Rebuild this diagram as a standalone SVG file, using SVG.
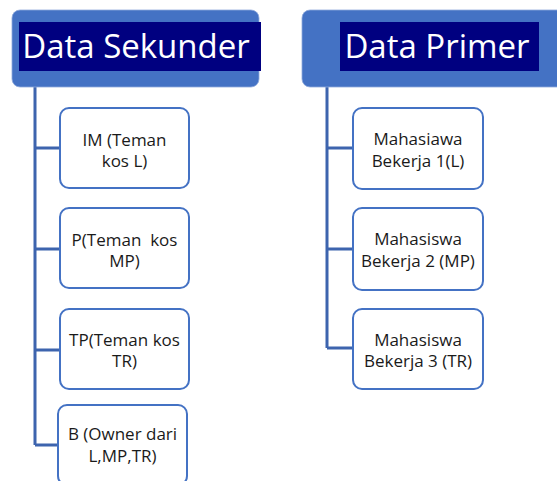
<svg xmlns="http://www.w3.org/2000/svg" width="557" height="481" viewBox="0 0 557 481">
<style>
.hdr{fill:#4472C4;stroke:#8FAADC;stroke-width:0.8}
.hbg{fill:#000080}
.ht{font-family:"Open Sans","Noto Sans",sans-serif;font-size:33px;fill:#FFFFFF;text-anchor:middle}
.box{fill:#FFFFFF;stroke:#4472C4;stroke-width:2}
.bt{font-family:"Open Sans","Noto Sans",sans-serif;font-size:17px;fill:#1A1A1A;text-anchor:middle}
.con{fill:none;stroke:#3D64AE;stroke-width:3}
</style>
<rect width="557" height="481" fill="#FFFFFF"/>
<g id="connectors">
<path class="con" d="M35,87 V445 M35,148 H60 M35,249 H60 M35,350 H60 M35,445 H58"/>
<path class="con" d="M327,87 V348 M327,148 H353 M327,249 H353 M327,348 H353"/>
</g>
<g id="data-sekunder">
<rect class="hdr" x="12" y="10" width="247" height="77" rx="8"/>
<rect class="hbg" x="19" y="22" width="242" height="49"/>
<text class="ht" x="136" y="58">Data Sekunder</text>
</g>
<g id="data-primer">
<rect class="hdr" x="302" y="10" width="270" height="77" rx="8"/>
<rect class="hbg" x="340" y="22" width="199" height="49"/>
<text class="ht" x="437" y="58">Data Primer</text>
</g>
<g id="im">
<rect class="box" x="60" y="108" width="129" height="80" rx="9"/>
<text class="bt" x="124.5" y="146">IM (Teman</text>
<text class="bt" x="124.5" y="167">kos L)</text>
</g>
<g id="p">
<rect class="box" x="60" y="208" width="129" height="80" rx="9"/>
<text class="bt" x="124.5" y="246" xml:space="preserve">P(Teman  kos</text>
<text class="bt" x="124.5" y="267">MP)</text>
</g>
<g id="tp">
<rect class="box" x="60" y="309" width="129" height="80" rx="9"/>
<text class="bt" x="124.5" y="346">TP(Teman kos</text>
<text class="bt" x="124.5" y="367">TR)</text>
</g>
<g id="b">
<rect class="box" x="58" y="405" width="129" height="80" rx="9"/>
<text class="bt" x="122.5" y="440">B (Owner dari</text>
<text class="bt" x="122.5" y="462">L,MP,TR)</text>
</g>
<g id="mb1">
<rect class="box" x="353" y="108" width="130" height="81" rx="9"/>
<text class="bt" x="418" y="145">Mahasiawa</text>
<text class="bt" x="418" y="167">Bekerja 1(L)</text>
</g>
<g id="mb2">
<rect class="box" x="353" y="208" width="130" height="82" rx="9"/>
<text class="bt" x="418" y="245">Mahasiswa</text>
<text class="bt" x="418" y="267">Bekerja 2 (MP)</text>
</g>
<g id="mb3">
<rect class="box" x="353" y="309" width="130" height="80" rx="9"/>
<text class="bt" x="418" y="346">Mahasiswa</text>
<text class="bt" x="418" y="367">Bekerja 3 (TR)</text>
</g>
</svg>
